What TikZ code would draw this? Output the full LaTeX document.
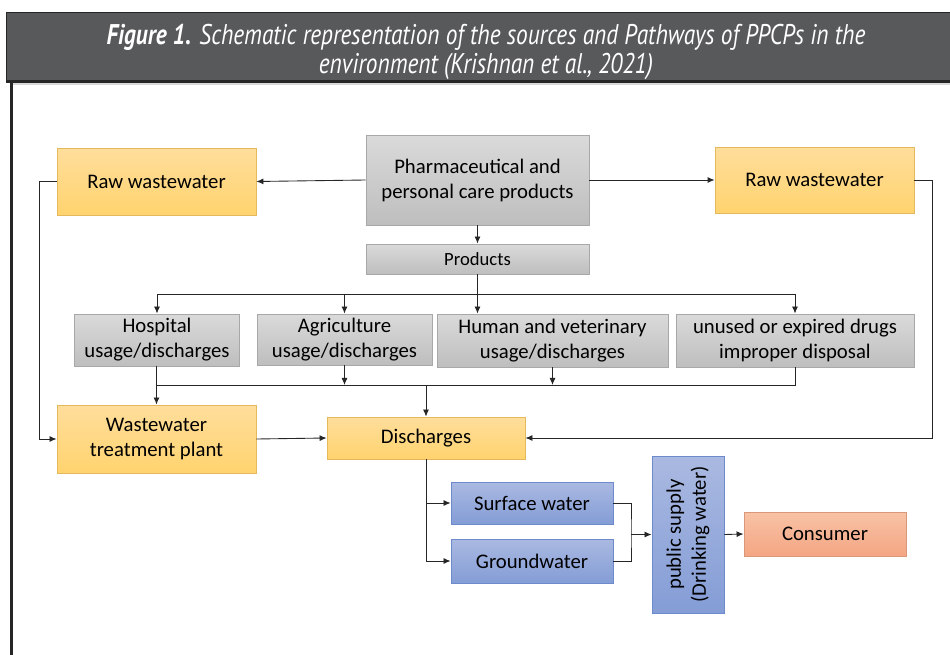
\documentclass[tikz,border=0pt]{standalone}
\usepackage{fontspec}
\setmainfont{Carlito}
\newfontfamily\titlefont[FakeStretch=0.82]{PT Sans}
\usepackage{tikz}
\usetikzlibrary{arrows.meta, positioning, calc}
\definecolor{titlegray}{RGB}{88,89,91}
\definecolor{framedark}{RGB}{38,38,38}
\definecolor{graytop}{RGB}{218,218,218}
\definecolor{graybot}{RGB}{190,190,190}
\definecolor{grayline}{RGB}{168,168,168}
\definecolor{orangetop}{RGB}{255,222,156}
\definecolor{orangebot}{RGB}{255,211,110}
\definecolor{orangeline}{RGB}{228,184,92}
\definecolor{bluetop}{RGB}{170,185,225}
\definecolor{bluebot}{RGB}{132,157,214}
\definecolor{blueline}{RGB}{108,138,204}
\definecolor{salmontop}{RGB}{248,194,165}
\definecolor{salmonbot}{RGB}{244,166,131}
\definecolor{salmonline}{RGB}{218,152,122}

\begin{document}
\begin{tikzpicture}[
    x=0.02cm, y=-0.02cm,
    box/.style={draw, line width=0.5pt, align=center, inner sep=1pt, font=\fontsize{11.8}{14.2}\selectfont},
    graybox/.style={box, draw=grayline, top color=graytop, bottom color=graybot},
    orangebox/.style={box, draw=orangeline, top color=orangetop, bottom color=orangebot},
    bluebox/.style={box, draw=blueline, top color=bluetop, bottom color=bluebot},
    salmonbox/.style={box, draw=salmonline, top color=salmontop, bottom color=salmonbot},
    arrow/.style={-{Latex[length=4pt, width=3.4pt]}, line width=0.5pt, draw=black!85},
    link/.style={line width=0.5pt, draw=black!85}
]
    \useasboundingbox (0,0) rectangle (950,655);
    \fill[titlegray] (6,12) rectangle (960,82);
    \draw[framedark, line width=0.5pt] (960,12) -- (6,12) -- (6,82);
    \draw[black!15, line width=0.6pt] (12,84) -- (960,84);
    \draw[framedark, line width=1.4pt] (6,81.5) -- (960,81.5);
    \draw[framedark, line width=1.3pt] (11.5,82) -- (11.5,660);
    \node[text=white, align=center, font=\titlefont\fontsize{16.2}{16}\selectfont\itshape] (title) at (486,52)
        {\textbf{Figure 1.} Schematic representation of the sources and Pathways of PPCPs in the\\environment (Krishnan et al., 2021)};

    \node[graybox, minimum width=4.46cm, minimum height=1.8cm] (ppcp) at (477.5,180) {Pharmaceutical and\\personal care products};
    \node[orangebox, minimum width=3.98cm, minimum height=1.34cm] (rawleft) at (156.5,181.5) {Raw wastewater};
    \node[orangebox, minimum width=3.98cm, minimum height=1.32cm] (rawright) at (814.5,180) {Raw wastewater};
    \node[graybox, minimum width=4.46cm, minimum height=0.6cm, font=\fontsize{10.6}{12}\selectfont] (products) at (477.5,259) {Products};
    \node[graybox, minimum width=3.3cm, minimum height=1.04cm] (hospital) at (157,340) {Hospital\\usage/discharges};
    \node[graybox, minimum width=3.5cm, minimum height=1.02cm] (agri) at (344.5,339.5) {Agriculture\\usage/discharges};
    \node[graybox, minimum width=4.62cm, minimum height=1.06cm] (human) at (552.5,340.5) {Human and veterinary\\usage/discharges};
    \node[graybox, minimum width=4.76cm, minimum height=1.06cm] (unused) at (795,340.5) {unused or expired drugs\\improper disposal};
    \node[orangebox, minimum width=3.98cm, minimum height=1.36cm] (wwtp) at (156.5,439) {Wastewater\\treatment plant};
    \node[orangebox, minimum width=3.96cm, minimum height=0.84cm] (discharges) at (426,438) {Discharges};
    \node[bluebox, minimum width=3.24cm, minimum height=0.84cm] (surface) at (532,503) {Surface water};
    \node[bluebox, minimum width=3.24cm, minimum height=0.88cm] (ground) at (532,561) {Groundwater};
    \node[bluebox, rotate=90, minimum width=3.14cm, minimum height=1.44cm] (supply) at (688,534.5) {public supply\\(Drinking water)};
    \node[salmonbox, minimum width=3.24cm, minimum height=0.88cm] (consumer) at (825,534) {Consumer};

    \coordinate (branch) at (477.5,294);
    \coordinate (collect) at (426,385);
    \coordinate (merge) at (631,534.5);

    \draw[arrow] (ppcp.west) -- (rawleft.east);
    \draw[arrow] (ppcp.east) -- (rawright.west);
    \draw[arrow] (ppcp.south) -- (products.north);
    \draw[arrow] (products.south) -- (products.south |- human.north);
    \draw[link] (branch -| hospital.north) -- (branch -| unused.north);
    \draw[arrow] (branch -| hospital.north) -- (hospital.north);
    \draw[arrow] (branch -| agri.north) -- (agri.north);
    \draw[arrow] (branch -| unused.north) -- (unused.north);
    \draw[link] (wwtp.north |- hospital.south) -- (wwtp.north |- collect) -- (collect -| unused.south) -- (unused.south);
    \draw[arrow] (agri.south) -- (agri.south |- collect);
    \draw[arrow] (human.south) -- (human.south |- collect);
    \draw[arrow] (collect -| wwtp.north) -- (wwtp.north);
    \draw[arrow] (collect) -- (discharges.north);
    \draw[arrow] (rawleft.west) -- ++(-17,0) |- (wwtp.west);
    \draw[arrow] (rawright.east) -- ++(18,0) |- (discharges.east);
    \draw[arrow] (wwtp.east) -- (discharges.west);
    \draw[arrow] (discharges.south) |- (surface.west);
    \draw[arrow] (discharges.south) |- (ground.west);
    \draw[link] (surface.east) -| (merge) |- (ground.east);
    \draw[arrow] (merge) -- (supply.north);
    \draw[arrow] (supply.south) -- (consumer.west);
\end{tikzpicture}
\end{document}
